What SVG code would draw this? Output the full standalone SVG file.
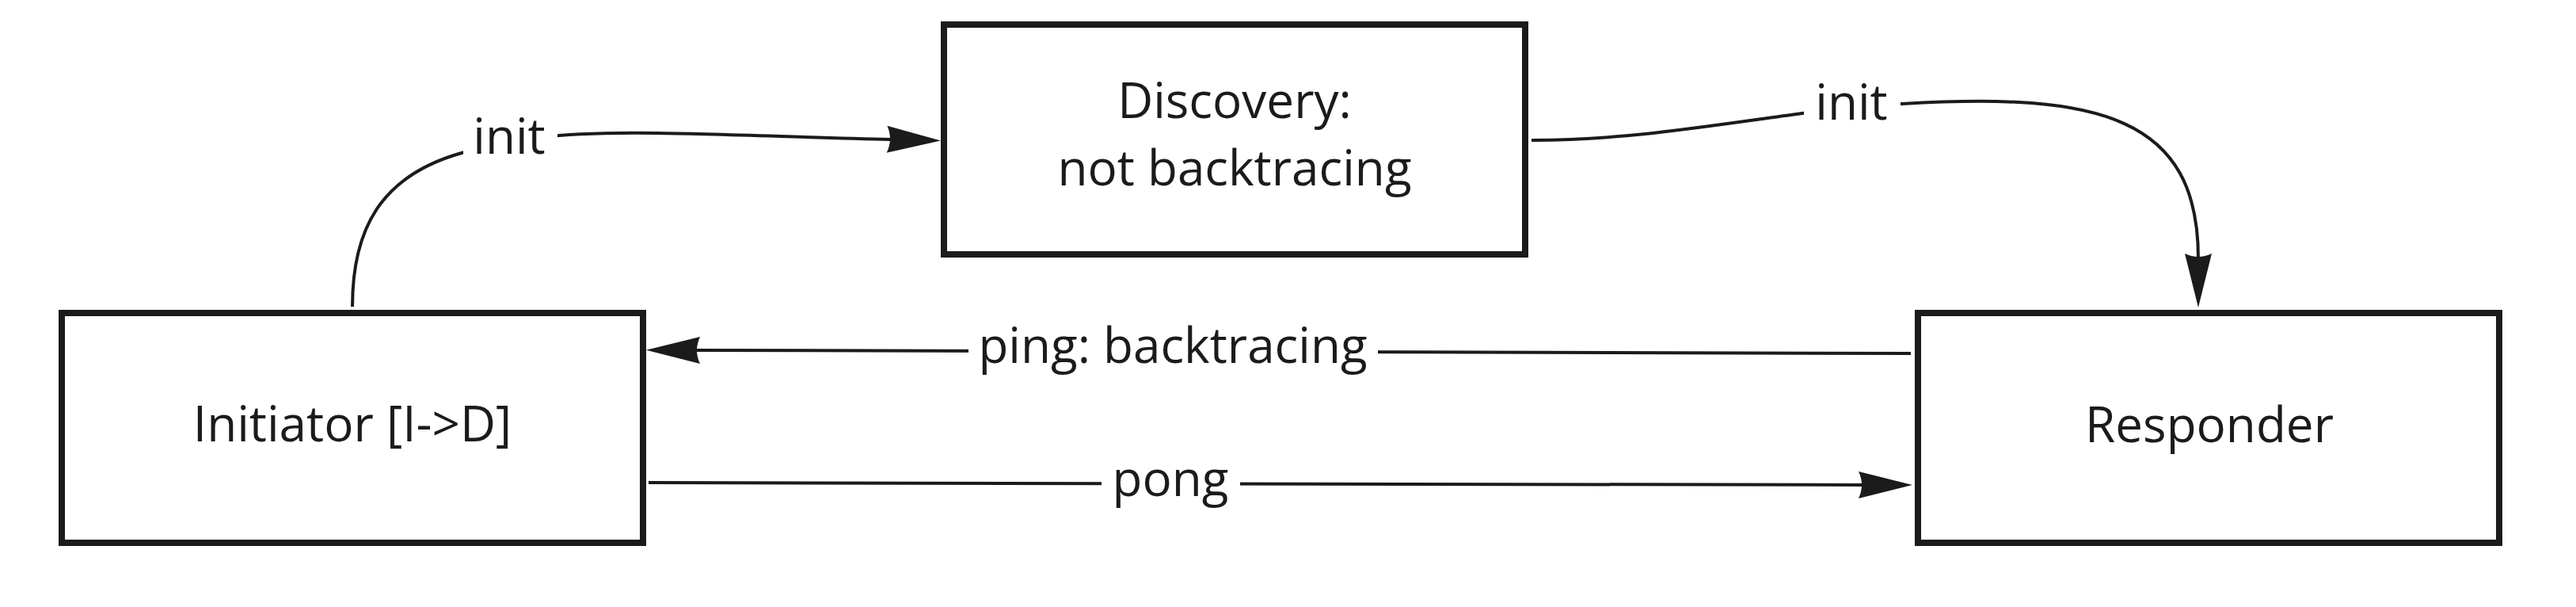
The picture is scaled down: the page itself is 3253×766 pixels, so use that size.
<svg xmlns="http://www.w3.org/2000/svg" width="3253" height="766" viewBox="0 0 3253 766">
  <style>
    .box { fill: #ffffff; stroke: #1b1b1b; stroke-width: 8; }
    .txt { font-family: "Open Sans", "Noto Sans", "Liberation Sans", sans-serif; font-size: 62px; fill: #1b1b1b; text-anchor: middle; }
    .edge { fill: none; stroke: #1b1b1b; stroke-width: 4; marker-end: url(#ah); }
    .lblbg { fill: #ffffff; stroke: none; }
  </style>
  <defs>
    <marker id="ah" markerUnits="userSpaceOnUse" markerWidth="80" markerHeight="40" refX="0" refY="0" orient="auto" overflow="visible">
      <path d="M62,0 L-6,-17 Q2,0 -6,17 Z" fill="#1b1b1b"/>
    </marker>
  </defs>
  <rect width="3253" height="766" fill="#ffffff"/>

  <g id="discovery">
    <rect class="box" x="1192" y="31" width="734" height="290"/>
    <text class="txt" x="1559" y="149">Discovery:</text>
    <text class="txt" x="1559" y="234">not backtracing</text>
  </g>
  <g id="initiator">
    <rect class="box" x="78" y="395" width="734" height="290"/>
    <text class="txt" x="445" y="557">Initiator [I-&gt;D]</text>
  </g>
  <g id="responder">
    <rect class="box" x="2422" y="395" width="734" height="290"/>
    <text class="txt" x="2790" y="558">Responder</text>
  </g>

  <g id="connectors">
    <g id="edge-init-1">
      <path class="edge" d="M445,387 C445,290 480,222 583,193 C620,183 670,175 706,171 C800,163 950,172 1126,176"/>
      <rect class="lblbg" x="585" y="140" width="119" height="70"/>
      <text class="txt" x="643" y="194">init</text>
    </g>
    <g id="edge-init-2">
      <path class="edge" d="M1934,177 C2050,177 2150,160 2276,143 C2320,137 2362,133 2402,131 C2652,116 2776,148 2776,326"/>
      <rect class="lblbg" x="2278" y="95" width="122" height="70"/>
      <text class="txt" x="2338" y="151">init</text>
    </g>
    <g id="edge-ping">
      <path class="edge" d="M2413,446 L878,442"/>
      <rect class="lblbg" x="1223" y="405" width="517" height="75"/>
      <text class="txt" x="1481" y="458">ping: backtracing</text>
    </g>
    <g id="edge-pong">
      <path class="edge" d="M819,609 L2353,612"/>
      <rect class="lblbg" x="1391" y="575" width="175" height="70"/>
      <text class="txt" x="1478" y="626">pong</text>
    </g>
  </g>
</svg>
